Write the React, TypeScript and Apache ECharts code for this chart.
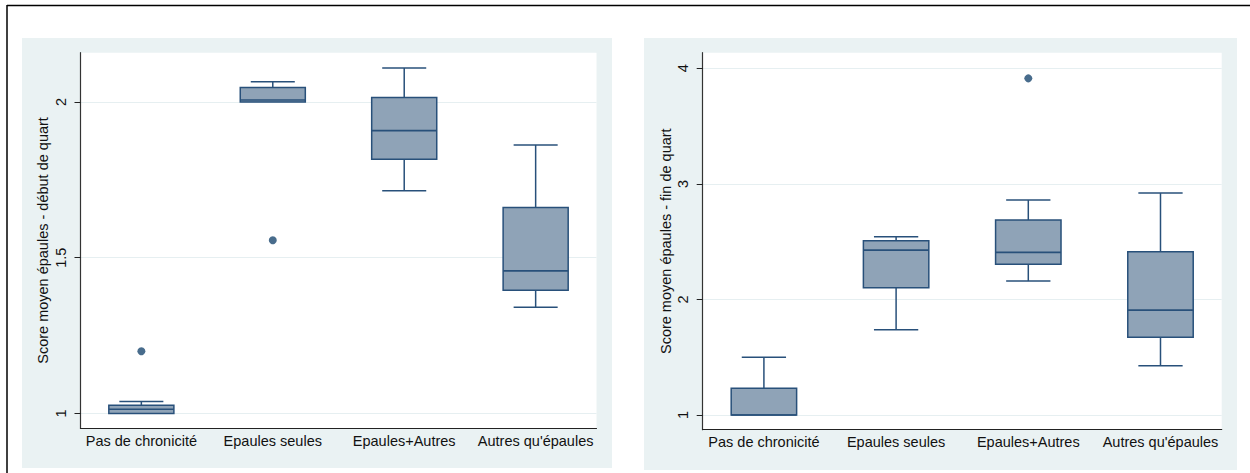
import React, { useEffect, useRef } from "react";
import * as echarts from "echarts";

const categories = ["Pas de chronicité", "Epaules seules", "Epaules+Autres", "Autres qu'épaules"];

// Left panel: score at start of shift
const lowDebut = [1.0, 2.0, 1.715, 1.341];
const q1Debut = [1.0, 2.0, 1.816, 1.396];
const medDebut = [1.014, 2.006, 1.908, 1.458];
const q3Debut = [1.027, 2.046, 2.014, 1.661];
const highDebut = [1.039, 2.065, 2.109, 1.862];
const outliersDebut = [[1, 1.2], [2, 1.556]];

// Right panel: score at end of shift
const lowFin = [1.0, 1.738, 2.159, 1.426];
const q1Fin = [1.0, 2.101, 2.304, 1.672];
const medFin = [1.0, 2.427, 2.407, 1.908];
const q3Fin = [1.231, 2.508, 2.687, 2.413];
const highFin = [1.499, 2.542, 2.86, 2.92];
const outliersFin = [[3, 3.913]];

const ticksDebut = [1, 1.5, 2];
const ticksFin = [1, 2, 3, 4];

const titleDebut = "Score moyen épaules - début de quart";
const titleFin = "Score moyen épaules - fin de quart";

const BOX_FILL = "#8FA3B7";
const BOX_LINE = "#28507A";
const DOT = "#1A476F";
const BG = "#EAF2F3";
const FONT = "Liberation Sans, Arial, sans-serif";

function boxData(low: number[], q1: number[], med: number[], q3: number[], high: number[]) {
  return categories.map((_, i) => [i + 1, low[i], q1[i], med[i], q3[i], high[i]]);
}

function renderBox(params: any, api: any) {
  const x = api.value(0);
  const low = api.value(1);
  const q1 = api.value(2);
  const med = api.value(3);
  const q3 = api.value(4);
  const high = api.value(5);
  const boxW = api.size([0.495, 0])[0];
  const capW = api.size([0.335, 0])[0];
  const pLow = api.coord([x, low]);
  const pQ1 = api.coord([x, q1]);
  const pMed = api.coord([x, med]);
  const pQ3 = api.coord([x, q3]);
  const pHigh = api.coord([x, high]);
  const cx = pMed[0];
  const lineStyle = { stroke: BOX_LINE, lineWidth: 1.5, fill: null };
  const children: any[] = [];
  if (high > q3) {
    children.push({ type: "line", shape: { x1: cx, y1: pQ3[1], x2: cx, y2: pHigh[1] }, style: lineStyle });
    children.push({ type: "line", shape: { x1: cx - capW / 2, y1: pHigh[1], x2: cx + capW / 2, y2: pHigh[1] }, style: lineStyle });
  }
  if (low < q1) {
    children.push({ type: "line", shape: { x1: cx, y1: pQ1[1], x2: cx, y2: pLow[1] }, style: lineStyle });
    children.push({ type: "line", shape: { x1: cx - capW / 2, y1: pLow[1], x2: cx + capW / 2, y2: pLow[1] }, style: lineStyle });
  }
  children.push({
    type: "rect",
    shape: { x: cx - boxW / 2, y: pQ3[1], width: boxW, height: pQ1[1] - pQ3[1] },
    style: { fill: BOX_FILL, stroke: BOX_LINE, lineWidth: 1.5 },
  });
  children.push({
    type: "line",
    shape: { x1: cx - boxW / 2, y1: pMed[1], x2: cx + boxW / 2, y2: pMed[1] },
    style: { stroke: BOX_LINE, lineWidth: 1.6 },
  });
  return { type: "group", children };
}

function xAxisFor(gridIndex: number) {
  return {
    type: "value",
    gridIndex,
    min: 0.537,
    max: 4.463,
    axisLine: { show: true, lineStyle: { color: "#222", width: 1.2 } },
    axisTick: { show: false },
    splitLine: { show: false },
    axisLabel: {
      customValues: [1, 2, 3, 4],
      formatter: (v: number) => categories[Math.round(v) - 1] ?? "",
      color: "#111",
      fontSize: 14.5,
      fontFamily: FONT,
      margin: 5,
    },
  };
}

function yAxisFor(gridIndex: number, min: number, max: number, ticks: number[], name: string, nameGap: number) {
  return {
    type: "value",
    gridIndex,
    min,
    max,
    name,
    nameLocation: "middle",
    nameGap,
    nameRotate: 90,
    nameTextStyle: { color: "#111", fontSize: 14.5, fontFamily: FONT },
    axisLine: { show: true, lineStyle: { color: "#333", width: 1.2 } },
    axisTick: { show: true, inside: false, length: 6, customValues: ticks, lineStyle: { color: "#222" } },
    axisLabel: {
      customValues: ticks,
      rotate: 90,
      margin: 12,
      color: "#111",
      fontSize: 14.5,
      fontFamily: FONT,
      formatter: (v: number) => String(v),
    },
    splitLine: { show: true, lineStyle: { color: "#E6EFF1", width: 1 } },
  };
}

export default function App() {
  const ref = useRef<HTMLDivElement>(null);
  useEffect(() => {
    if (!ref.current) return;
    const chart = echarts.init(ref.current, null, { renderer: "svg" });
    chart.setOption({
      animation: false,
      backgroundColor: "#FFFFFF",
      graphic: {
        elements: [
          { type: "rect", z: -20, shape: { x: 22, y: 38, width: 590, height: 430 }, style: { fill: BG } },
          { type: "rect", z: -20, shape: { x: 644, y: 38, width: 593, height: 432 }, style: { fill: BG } },
          { type: "rect", z: -15, shape: { x: 80.5, y: 52.7, width: 516, height: 375.5 }, style: { fill: "#FFFFFF" } },
          { type: "rect", z: -15, shape: { x: 702.7, y: 52.7, width: 519, height: 377 }, style: { fill: "#FFFFFF" } },
          { type: "line", z: 10, shape: { x1: 7, y1: 5.5, x2: 1250, y2: 5.5 }, style: { stroke: "#000", lineWidth: 1.5 } },
          { type: "line", z: 10, shape: { x1: 7, y1: 5, x2: 7, y2: 473 }, style: { stroke: "#000", lineWidth: 1.5 } },
        ],
      },
      grid: [
        { left: 80.5, top: 52.7, width: 516, height: 375.5, containLabel: false },
        { left: 702.7, top: 52.7, width: 519, height: 377, containLabel: false },
      ],
      xAxis: [xAxisFor(0), xAxisFor(1)],
      yAxis: [
        yAxisFor(0, 0.953, 2.158, ticksDebut, titleDebut, 30),
        yAxisFor(1, 0.873, 4.135, ticksFin, titleFin, 29.5),
      ],
      series: [
        {
          type: "custom",
          xAxisIndex: 0,
          yAxisIndex: 0,
          renderItem: renderBox,
          encode: { x: 0, y: [1, 2, 3, 4, 5] },
          data: boxData(lowDebut, q1Debut, medDebut, q3Debut, highDebut),
          clip: false,
          z: 3,
        },
        {
          type: "scatter",
          xAxisIndex: 0,
          yAxisIndex: 0,
          data: outliersDebut,
          symbol: "circle",
          symbolSize: 8,
          itemStyle: { color: DOT },
          z: 4,
        },
        {
          type: "custom",
          xAxisIndex: 1,
          yAxisIndex: 1,
          renderItem: renderBox,
          encode: { x: 0, y: [1, 2, 3, 4, 5] },
          data: boxData(lowFin, q1Fin, medFin, q3Fin, highFin),
          clip: false,
          z: 3,
        },
        {
          type: "scatter",
          xAxisIndex: 1,
          yAxisIndex: 1,
          data: outliersFin,
          symbol: "circle",
          symbolSize: 8,
          itemStyle: { color: DOT },
          z: 4,
        },
      ],
    });
    return () => chart.dispose();
  }, []);
  return <div ref={ref} style={{ position: "absolute", left: 0, top: 0, width: 1250, height: 473 }} />;
}
